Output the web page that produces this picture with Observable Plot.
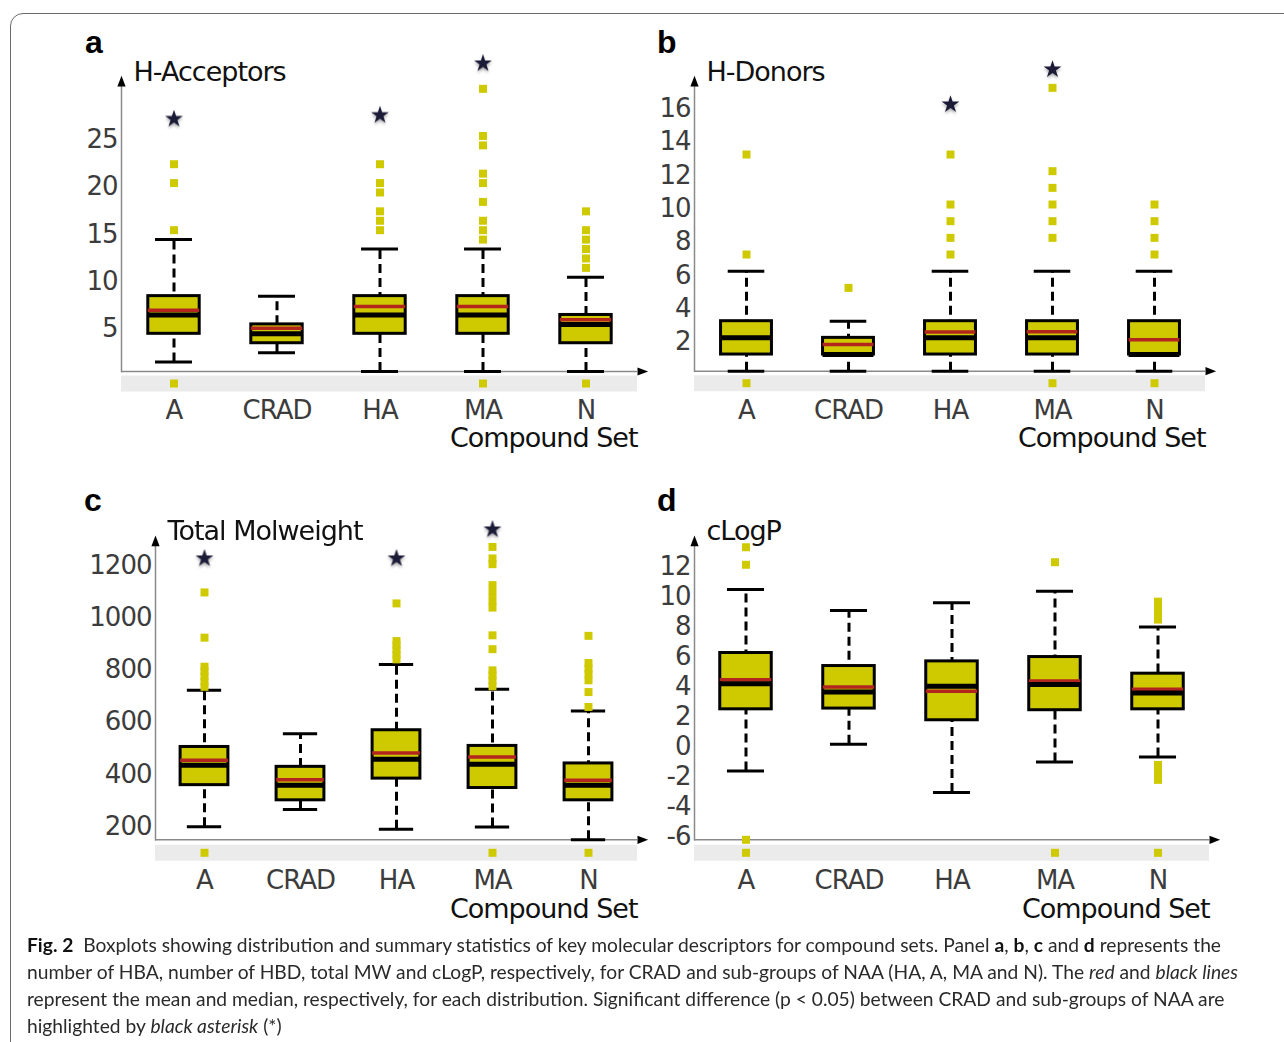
<!DOCTYPE html>
<html>
<head>
<meta charset="utf-8">
<script src="https://cdn.jsdelivr.net/npm/d3@7"></script>
<script src="https://cdn.jsdelivr.net/npm/@observablehq/plot@0.6"></script>
<style>
  html, body { margin: 0; padding: 0; background: #fff; }
  #figure { position: relative; width: 1284px; height: 1042px; overflow: hidden; background: #fff; }
  #border { position: absolute; left: 10px; top: 13px; width: 1320px; height: 1100px;
            border: 1.5px solid #6a6a6a; border-radius: 13px; box-sizing: border-box; }
  .panel { position: absolute; }
  .panel svg { overflow: visible; }
  .panel svg, .panel svg text { font-family: "DejaVu Sans", sans-serif !important; letter-spacing: -1px; }
  .tag { position: absolute; font: bold 32px "Liberation Sans", Arial, sans-serif; color: #000; line-height: 1; }
  #caption { position: absolute; left: 27px; top: 931px; font-family: Lato, "Noto Sans", sans-serif;
             font-size: 19px; line-height: 27px; color: #2a2a2a; transform-origin: 0 0; white-space: nowrap; }
  #caption b { font-weight: 700; color: #111; }
  #caption div { display: block; }
</style>
</head>
<body>
<div id="figure">
  <div id="border"></div>
  <div class="panel" id="pa" style="left:0px;top:0px"></div>
  <div class="panel" id="pb" style="left:640px;top:0px"></div>
  <div class="panel" id="pc" style="left:0px;top:460px"></div>
  <div class="panel" id="pd" style="left:640px;top:460px"></div>
  <div class="tag" style="left:85px;top:26px">a</div>
  <div class="tag" style="left:657px;top:26px">b</div>
  <div class="tag" style="left:84px;top:484px">c</div>
  <div class="tag" style="left:657px;top:484px">d</div>
  <div id="caption">
    <div id="capline1"><b>Fig. 2</b>&nbsp;&nbsp;Boxplots showing distribution and summary statistics of key molecular descriptors for compound sets. Panel <b>a</b>, <b>b</b>, <b>c</b> and <b>d</b> represents the</div>
    <div>number of HBA, number of HBD, total MW and cLogP, respectively, for CRAD and sub-groups of NAA (HA, A, MA and N). The <i>red</i> and <i>black lines</i></div>
    <div>represent the mean and median, respectively, for each distribution. Significant difference (p &lt; 0.05) between CRAD and sub-groups of NAA are</div>
    <div>highlighted by <i>black asterisk</i> (*)</div>
  </div>
</div>
<script>
// Compound sets, in axis order
const sets = ["A", "CRAD", "HA", "MA", "N"];

// (a) H-bond acceptors
const hbaLow    = [1, 2, 0, 0, 0];
const hbaQ1     = [4, 3, 4, 4, 3];
const hbaMedian = [6, 4, 6, 6, 5];
const hbaMean   = [6.5, 4.6, 6.9, 6.9, 5.5];
const hbaQ3     = [8, 5, 8, 8, 6];
const hbaHigh   = [14, 8, 13, 13, 10];
const hbaOutliers = [
  ["A", 15], ["A", 20], ["A", 22],
  ["HA", 15], ["HA", 16], ["HA", 17], ["HA", 19], ["HA", 20], ["HA", 22],
  ["MA", 14], ["MA", 15], ["MA", 16], ["MA", 18], ["MA", 20], ["MA", 21], ["MA", 24], ["MA", 25], ["MA", 30],
  ["N", 11], ["N", 12], ["N", 13], ["N", 14], ["N", 15], ["N", 17]
];
const hbaMissing = ["A", "MA", "N"];
const hbaStars = [["A", 26.8], ["HA", 27.2], ["MA", 32.7]];
const hbaTicks = [5, 10, 15, 20, 25];

// (b) H-bond donors
const hbdLow    = [0, 0, 0, 0, 0];
const hbdQ1     = [1, 1, 1, 1, 1];
const hbdMedian = [2, 1, 2, 2, 1];
const hbdMean   = [2.0, 1.6, 2.35, 2.37, 1.88];
const hbdQ3     = [3, 2, 3, 3, 3];
const hbdHigh   = [6, 3, 6, 6, 6];
const hbdOutliers = [
  ["A", 7], ["A", 13],
  ["CRAD", 5],
  ["HA", 7], ["HA", 8], ["HA", 9], ["HA", 10], ["HA", 13],
  ["MA", 8], ["MA", 9], ["MA", 10], ["MA", 11], ["MA", 12], ["MA", 17],
  ["N", 7], ["N", 8], ["N", 9], ["N", 10]
];
const hbdMissing = ["A", "MA", "N"];
const hbdStars = [["HA", 16], ["MA", 18.1]];
const hbdTicks = [2, 4, 6, 8, 10, 12, 14, 16];

// (c) Total molecular weight
const mwLow    = [200, 266, 190, 199, 150];
const mwQ1     = [359, 301, 384, 348, 301];
const mwMedian = [435, 359, 458, 439, 359];
const mwMean   = [454, 380, 482, 467, 378];
const mwQ3     = [505, 429, 569, 509, 442];
const mwHigh   = [722, 556, 820, 726, 643];
const mwOutliers = [
  ["A", 735], ["A", 755], ["A", 775], ["A", 795], ["A", 812], ["A", 923], ["A", 1096],
  ["HA", 840], ["HA", 858], ["HA", 876], ["HA", 894], ["HA", 910], ["HA", 1054],
  ["MA", 737], ["MA", 760], ["MA", 779], ["MA", 798], ["MA", 879], ["MA", 932], ["MA", 1038],
  ["MA", 1064], ["MA", 1094], ["MA", 1124], ["MA", 1204], ["MA", 1226], ["MA", 1270],
  ["N", 658], ["N", 715], ["N", 760], ["N", 783], ["N", 805], ["N", 826], ["N", 930]
];
const mwMissing = ["A", "MA", "N"];
const mwStars = [["A", 1226], ["HA", 1226], ["MA", 1337]];
const mwTicks = [200, 400, 600, 800, 1000, 1200];

// (d) cLogP
const logpLow    = [-1.6, 0.18, -3.04, -1.0, -0.67];
const logpQ1     = [2.51, 2.56, 1.78, 2.45, 2.51];
const logpMedian = [4.22, 3.67, 4.05, 4.16, 3.6];
const logpMean   = [4.49, 4.0, 3.71, 4.4, 3.85];
const logpQ3     = [6.27, 5.4, 5.71, 6.0, 4.89];
const logpHigh   = [10.51, 9.11, 9.62, 10.4, 8.0];
const logpOutliers = [
  ["A", -6.2], ["A", 12.16], ["A", 13.33],
  ["MA", 12.33],
  ["N", -2.2], ["N", -1.8], ["N", -1.5], ["N", -1.2],
  ["N", 8.5], ["N", 8.8], ["N", 9.1], ["N", 9.4], ["N", 9.7]
];
const logpMissing = ["A", "MA", "N"];
const logpStars = [];
const logpTicks = [-6, -4, -2, 0, 2, 4, 6, 8, 10, 12];

const YELLOW = "#cfc900";
const RED = "#b3261e";
const STAR = "#1b1b38";
const AXIS = "#8a8a8a";
const LABEL = "#3c3c3c";

// Filled arrowhead: base centred on the origin, tip pointing up
const arrowHead = {
  draw(context, size) {
    const s = Math.sqrt(size);
    context.moveTo(0, -1.5 * s);
    context.lineTo(0.58 * s, 0);
    context.lineTo(-0.58 * s, 0);
    context.closePath();
  }
};

function boxPanel(cfg) {
  const rows = sets.map((set, i) => ({
    set,
    low: cfg.low[i], q1: cfg.q1[i], median: cfg.median[i],
    mean: cfg.mean[i], q3: cfg.q3[i], high: cfg.high[i]
  }));
  const step = (cfg.width - cfg.marginLeft - cfg.marginRight) / sets.length;
  const boxInset = step * 0.25;
  const capInset = step * 0.32;
  const yMin = cfg.yDomain[0];

  const svg = Plot.plot({
    width: cfg.width,
    height: cfg.height,
    marginLeft: cfg.marginLeft,
    marginRight: cfg.marginRight,
    marginTop: cfg.marginTop,
    marginBottom: cfg.marginBottom,
    style: {
      fontFamily: "\"DejaVu Sans\", sans-serif",
      fontSize: "26px",
      letterSpacing: "-1px",
      background: "transparent",
      overflow: "visible"
    },
    x: {type: "band", domain: sets, padding: 0},
    y: {domain: cfg.yDomain},
    marks: [
      // grey strip below the axis holding the missing-value markers
      Plot.ruleY([yMin], {stroke: "#ebebeb", strokeWidth: 16, dy: cfg.bandOffset}),
      Plot.dot(cfg.missing, {x: d => d, y: () => yMin, dy: cfg.bandOffset, symbol: "square", r: 4.5, fill: YELLOW}),

      // axis lines with arrowheads
      Plot.frame({anchor: "left", stroke: AXIS, strokeWidth: 1.5}),
      Plot.ruleY([yMin], {stroke: AXIS, strokeWidth: 1.5}),
      Plot.dot([null], {frameAnchor: "top-left", symbol: arrowHead, r: 4, fill: "#000"}),
      Plot.dot([yMin], {y: d => d, frameAnchor: "right", symbol: arrowHead, rotate: 90, r: 4, fill: "#000"}),

      // whiskers and caps
      Plot.ruleX(rows, {x: "set", y1: "low", y2: "high", stroke: "#000", strokeWidth: 3, strokeDasharray: "9,5"}),
      Plot.tickY(rows, {x: "set", y: "low", stroke: "#000", strokeWidth: 3, insetLeft: capInset, insetRight: capInset}),
      Plot.tickY(rows, {x: "set", y: "high", stroke: "#000", strokeWidth: 3, insetLeft: capInset, insetRight: capInset}),

      // interquartile box, mean (red) and median (black)
      Plot.barY(rows, {x: "set", y1: "q1", y2: "q3", fill: YELLOW, stroke: "#000", strokeWidth: 3, insetLeft: boxInset, insetRight: boxInset}),
      Plot.tickY(rows, {x: "set", y: "mean", stroke: RED, strokeWidth: 3.5, insetLeft: boxInset, insetRight: boxInset}),
      Plot.tickY(rows, {x: "set", y: "median", stroke: "#000", strokeWidth: 5, insetLeft: boxInset, insetRight: boxInset}),

      // outliers
      Plot.dot(cfg.outliers, {x: d => d[0], y: d => d[1], symbol: "square", r: 4.5, fill: YELLOW}),

      // significance markers
      Plot.dot(cfg.stars, {x: d => d[0], y: d => d[1], symbol: "star", r: 5.6, fill: STAR}),

      // tick labels
      Plot.axisY(cfg.ticks, {tickSize: 0, tickPadding: 4, dy: cfg.tickDy, fill: LABEL, fontSize: 26, tickFormat: d => String(d), label: null}),
      Plot.axisX({tickSize: 0, tickPadding: cfg.xPad, fill: LABEL, fontSize: 26, label: null}),

      // axis titles
      Plot.text([cfg.title], {text: d => d, frameAnchor: "top-left", textAnchor: "start", lineAnchor: "top", dx: 12, dy: -25, fontSize: 27, fill: "#111"}),
      Plot.text(["Compound Set"], {text: d => d, frameAnchor: "bottom-right", textAnchor: "end", lineAnchor: "top", dy: cfg.xTitleDy, fontSize: 27, fill: "#111"})
    ]
  });
  svg.querySelectorAll(`g[fill="${STAR}"]`).forEach(g => {
    g.style.filter = "drop-shadow(0px 2px 1.5px rgba(0,0,0,0.35))";
  });
  return svg;
}

document.getElementById("pa").append(boxPanel({
  width: 660, height: 460, marginLeft: 121, marginRight: 23, marginTop: 86, marginBottom: 89,
  yDomain: [0, 30.25], ticks: hbaTicks, tickDy: 4, xPad: 29, bandOffset: 12, xTitleDy: 56,
  title: "H-Acceptors",
  low: hbaLow, q1: hbaQ1, median: hbaMedian, mean: hbaMean, q3: hbaQ3, high: hbaHigh,
  outliers: hbaOutliers, missing: hbaMissing, stars: hbaStars
}));

document.getElementById("pb").append(boxPanel({
  width: 644, height: 460, marginLeft: 54, marginRight: 79, marginTop: 86, marginBottom: 89.3,
  yDomain: [0, 17.08], ticks: hbdTicks, tickDy: 4, xPad: 29, bandOffset: 12, xTitleDy: 56.5,
  title: "H-Donors",
  low: hbdLow, q1: hbdQ1, median: hbdMedian, mean: hbdMean, q3: hbdQ3, high: hbdHigh,
  outliers: hbdOutliers, missing: hbdMissing, stars: hbdStars
}));

document.getElementById("pc").append(boxPanel({
  width: 660, height: 470, marginLeft: 155, marginRight: 23, marginTop: 85.7, marginBottom: 90.7,
  yDomain: [150, 1272.8], ticks: mwTicks, tickDy: 0, xPad: 31, bandOffset: 13, xTitleDy: 59,
  title: "Total Molweight",
  low: mwLow, q1: mwQ1, median: mwMedian, mean: mwMean, q3: mwQ3, high: mwHigh,
  outliers: mwOutliers, missing: mwMissing, stars: mwStars
}));

document.getElementById("pd").append(boxPanel({
  width: 644, height: 470, marginLeft: 54, marginRight: 75, marginTop: 85.7, marginBottom: 90.7,
  yDomain: [-6.2, 13.4], ticks: logpTicks, tickDy: 0, xPad: 31, bandOffset: 13, xTitleDy: 59,
  title: "cLogP",
  low: logpLow, q1: logpQ1, median: logpMedian, mean: logpMean, q3: logpQ3, high: logpHigh,
  outliers: logpOutliers, missing: logpMissing, stars: logpStars
}));

// Fit the caption's first line to the text block width
const cap = document.getElementById("caption");
const line1 = document.getElementById("capline1");
const natural = line1.getBoundingClientRect().width;
cap.style.transform = `scaleX(${1211 / natural})`;
</script>
</body>
</html>
